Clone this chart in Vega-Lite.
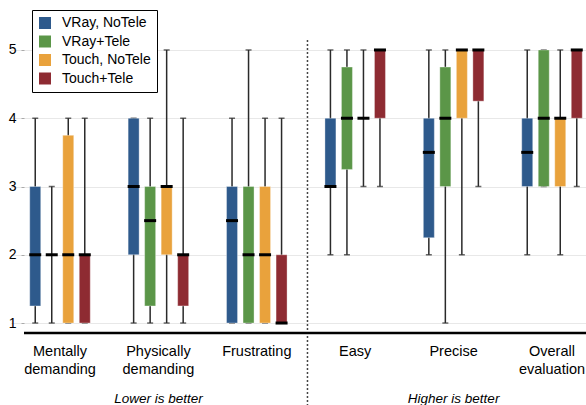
{
  "$schema": "https://vega.github.io/schema/vega-lite/v6.json",
  "autosize": "none",
  "width": 562,
  "height": 293,
  "padding": {"left": 24, "top": 40, "right": 0, "bottom": 72},
  "background": "white",
  "config": {
    "view": {"stroke": null},
    "font": "Liberation Sans",
    "axisX": {
      "labelExpr": "split(datum.label, ' ')",
      "labelFontSize": 14.5,
      "labelLineHeight": 18.5,
      "labelPadding": 11,
      "labelColor": "black",
      "labelFont": "Liberation Sans",
      "ticks": false,
      "tickSize": 0,
      "domain": false,
      "grid": false,
      "title": null,
      "labelAngle": 0
    },
    "legend": {
      "orient": "none",
      "legendX": 8,
      "legendY": -30,
      "strokeColor": "black",
      "fillColor": "white",
      "padding": 6,
      "symbolType": "square",
      "symbolSize": 144,
      "symbolStrokeWidth": 0,
      "symbolOpacity": 1,
      "labelFontSize": 14,
      "labelFont": "Liberation Sans",
      "labelColor": "black",
      "rowPadding": 4.5,
      "labelOffset": 10,
      "title": null
    }
  },
  "datasets": {
    "stats": [
      {"cat": "Mentally demanding", "cond": "VRay, NoTele", "min": 1, "q1": 1.25, "med": 2, "q3": 3, "max": 4},
      {"cat": "Mentally demanding", "cond": "VRay+Tele", "min": 1, "q1": 2, "med": 2, "q3": 2, "max": 3},
      {"cat": "Mentally demanding", "cond": "Touch, NoTele", "min": 1, "q1": 1, "med": 2, "q3": 3.75, "max": 4},
      {"cat": "Mentally demanding", "cond": "Touch+Tele", "min": 1, "q1": 1, "med": 2, "q3": 2, "max": 4},
      {"cat": "Physically demanding", "cond": "VRay, NoTele", "min": 1, "q1": 2, "med": 3, "q3": 4, "max": 4},
      {"cat": "Physically demanding", "cond": "VRay+Tele", "min": 1, "q1": 1.25, "med": 2.5, "q3": 3, "max": 4},
      {"cat": "Physically demanding", "cond": "Touch, NoTele", "min": 1, "q1": 2, "med": 3, "q3": 3, "max": 5},
      {"cat": "Physically demanding", "cond": "Touch+Tele", "min": 1, "q1": 1.25, "med": 2, "q3": 2, "max": 4},
      {"cat": "Frustrating", "cond": "VRay, NoTele", "min": 1, "q1": 1, "med": 2.5, "q3": 3, "max": 4},
      {"cat": "Frustrating", "cond": "VRay+Tele", "min": 1, "q1": 1, "med": 2, "q3": 3, "max": 5},
      {"cat": "Frustrating", "cond": "Touch, NoTele", "min": 1, "q1": 1, "med": 2, "q3": 3, "max": 4},
      {"cat": "Frustrating", "cond": "Touch+Tele", "min": 1, "q1": 1, "med": 1, "q3": 2, "max": 4},
      {"cat": "Easy", "cond": "VRay, NoTele", "min": 2, "q1": 3, "med": 3, "q3": 4, "max": 5},
      {"cat": "Easy", "cond": "VRay+Tele", "min": 2, "q1": 3.25, "med": 4, "q3": 4.75, "max": 5},
      {"cat": "Easy", "cond": "Touch, NoTele", "min": 3, "q1": 4, "med": 4, "q3": 4, "max": 5},
      {"cat": "Easy", "cond": "Touch+Tele", "min": 3, "q1": 4, "med": 5, "q3": 5, "max": 5},
      {"cat": "Precise", "cond": "VRay, NoTele", "min": 2, "q1": 2.25, "med": 3.5, "q3": 4, "max": 5},
      {"cat": "Precise", "cond": "VRay+Tele", "min": 1, "q1": 3, "med": 4, "q3": 4.75, "max": 5},
      {"cat": "Precise", "cond": "Touch, NoTele", "min": 2, "q1": 4, "med": 5, "q3": 5, "max": 5},
      {"cat": "Precise", "cond": "Touch+Tele", "min": 3, "q1": 4.25, "med": 5, "q3": 5, "max": 5},
      {"cat": "Overall evaluation", "cond": "VRay, NoTele", "min": 2, "q1": 3, "med": 3.5, "q3": 4, "max": 5},
      {"cat": "Overall evaluation", "cond": "VRay+Tele", "min": 3, "q1": 3, "med": 4, "q3": 5, "max": 5},
      {"cat": "Overall evaluation", "cond": "Touch, NoTele", "min": 2, "q1": 3, "med": 4, "q3": 4, "max": 5},
      {"cat": "Overall evaluation", "cond": "Touch+Tele", "min": 3, "q1": 4, "med": 5, "q3": 5, "max": 5}
    ],
    "notes": [
      {"cat": "Physically demanding", "note": "Lower is better"},
      {"cat": "Precise", "note": "Higher is better"}
    ]
  },
  "layer": [
    {
      "data": {"name": "stats"},
      "mark": {"type": "rule", "color": "#2a2a2a", "strokeWidth": 1.5},
      "encoding": {
        "x": {"field": "cat", "type": "nominal", "sort": ["Mentally demanding", "Physically demanding", "Frustrating", "Easy", "Precise", "Overall evaluation"], "scale": {"range": [-13.2, 577.2], "paddingInner": 0, "paddingOuter": 0}},
        "xOffset": {"field": "cond", "type": "nominal", "sort": ["VRay, NoTele", "VRay+Tele", "Touch, NoTele", "Touch+Tele"], "scale": {"paddingInner": 0, "paddingOuter": 0.98}},
        "y": {"field": "min", "type": "quantitative", "scale": {"domain": [0.854, 5.146], "nice": false, "zero": false}, "axis": {"values": [1, 2, 3, 4, 5], "format": "d", "grid": true, "gridColor": "#e8e8e8", "gridWidth": 1, "domain": false, "tickSize": 3, "tickColor": "#aaaaaa", "labelFontSize": 14, "labelColor": "black", "labelPadding": 5, "title": null}},
        "y2": {"field": "max"}
      }
    },
    {
      "data": {"name": "stats"},
      "mark": {"type": "tick", "color": "#2a2a2a", "size": 6, "thickness": 1.5, "orient": "horizontal"},
      "encoding": {
        "x": {"field": "cat", "type": "nominal", "sort": ["Mentally demanding", "Physically demanding", "Frustrating", "Easy", "Precise", "Overall evaluation"]},
        "xOffset": {"field": "cond", "type": "nominal", "sort": ["VRay, NoTele", "VRay+Tele", "Touch, NoTele", "Touch+Tele"]},
        "y": {"field": "min", "type": "quantitative"}
      }
    },
    {
      "data": {"name": "stats"},
      "mark": {"type": "tick", "color": "#2a2a2a", "size": 6, "thickness": 1.5, "orient": "horizontal"},
      "encoding": {
        "x": {"field": "cat", "type": "nominal", "sort": ["Mentally demanding", "Physically demanding", "Frustrating", "Easy", "Precise", "Overall evaluation"]},
        "xOffset": {"field": "cond", "type": "nominal", "sort": ["VRay, NoTele", "VRay+Tele", "Touch, NoTele", "Touch+Tele"]},
        "y": {"field": "max", "type": "quantitative"}
      }
    },
    {
      "data": {"name": "stats"},
      "mark": {"type": "bar", "size": 11, "stroke": "white", "strokeOpacity": 0.35, "strokeWidth": 1},
      "encoding": {
        "x": {"field": "cat", "type": "nominal", "sort": ["Mentally demanding", "Physically demanding", "Frustrating", "Easy", "Precise", "Overall evaluation"]},
        "xOffset": {"field": "cond", "type": "nominal", "sort": ["VRay, NoTele", "VRay+Tele", "Touch, NoTele", "Touch+Tele"]},
        "y": {"field": "q1", "type": "quantitative"},
        "y2": {"field": "q3"},
        "color": {"field": "cond", "type": "nominal", "sort": ["VRay, NoTele", "VRay+Tele", "Touch, NoTele", "Touch+Tele"], "scale": {"domain": ["VRay, NoTele", "VRay+Tele", "Touch, NoTele", "Touch+Tele"], "range": ["#2e5a8c", "#5b9648", "#e9a23c", "#8e2b32"]}}
      }
    },
    {
      "data": {"name": "stats"},
      "mark": {"type": "tick", "color": "black", "size": 12, "thickness": 3, "orient": "horizontal", "opacity": 1},
      "encoding": {
        "x": {"field": "cat", "type": "nominal", "sort": ["Mentally demanding", "Physically demanding", "Frustrating", "Easy", "Precise", "Overall evaluation"]},
        "xOffset": {"field": "cond", "type": "nominal", "sort": ["VRay, NoTele", "VRay+Tele", "Touch, NoTele", "Touch+Tele"]},
        "y": {"field": "med", "type": "quantitative"}
      }
    },
    {
      "data": {"name": "stats"},
      "transform": [{"filter": "datum.cat === 'Easy' && datum.cond === 'VRay, NoTele'"}],
      "mark": {"type": "rule", "color": "#444444", "strokeWidth": 1.5, "strokeDash": [2, 2], "clip": false},
      "encoding": {
        "x": {"field": "cat", "type": "nominal", "bandPosition": 0.015, "sort": ["Mentally demanding", "Physically demanding", "Frustrating", "Easy", "Precise", "Overall evaluation"]},
        "y": {"datum": 5.146, "type": "quantitative"},
        "y2": {"datum": -0.26}
      }
    },
    {
      "data": {"name": "notes"},
      "mark": {"type": "text", "fontStyle": "italic", "fontSize": 13.5, "font": "Liberation Sans", "color": "black", "baseline": "alphabetic", "align": "center", "clip": false},
      "encoding": {
        "x": {"field": "cat", "type": "nominal", "sort": ["Mentally demanding", "Physically demanding", "Frustrating", "Easy", "Precise", "Overall evaluation"]},
        "y": {"datum": -0.172, "type": "quantitative"},
        "text": {"field": "note"}
      }
    },
    {
      "data": {"values": [{}]},
      "mark": {"type": "rule", "color": "black", "strokeWidth": 2.5},
      "encoding": {
        "y": {"datum": 0.854, "type": "quantitative"}
      }
    }
  ]
}
